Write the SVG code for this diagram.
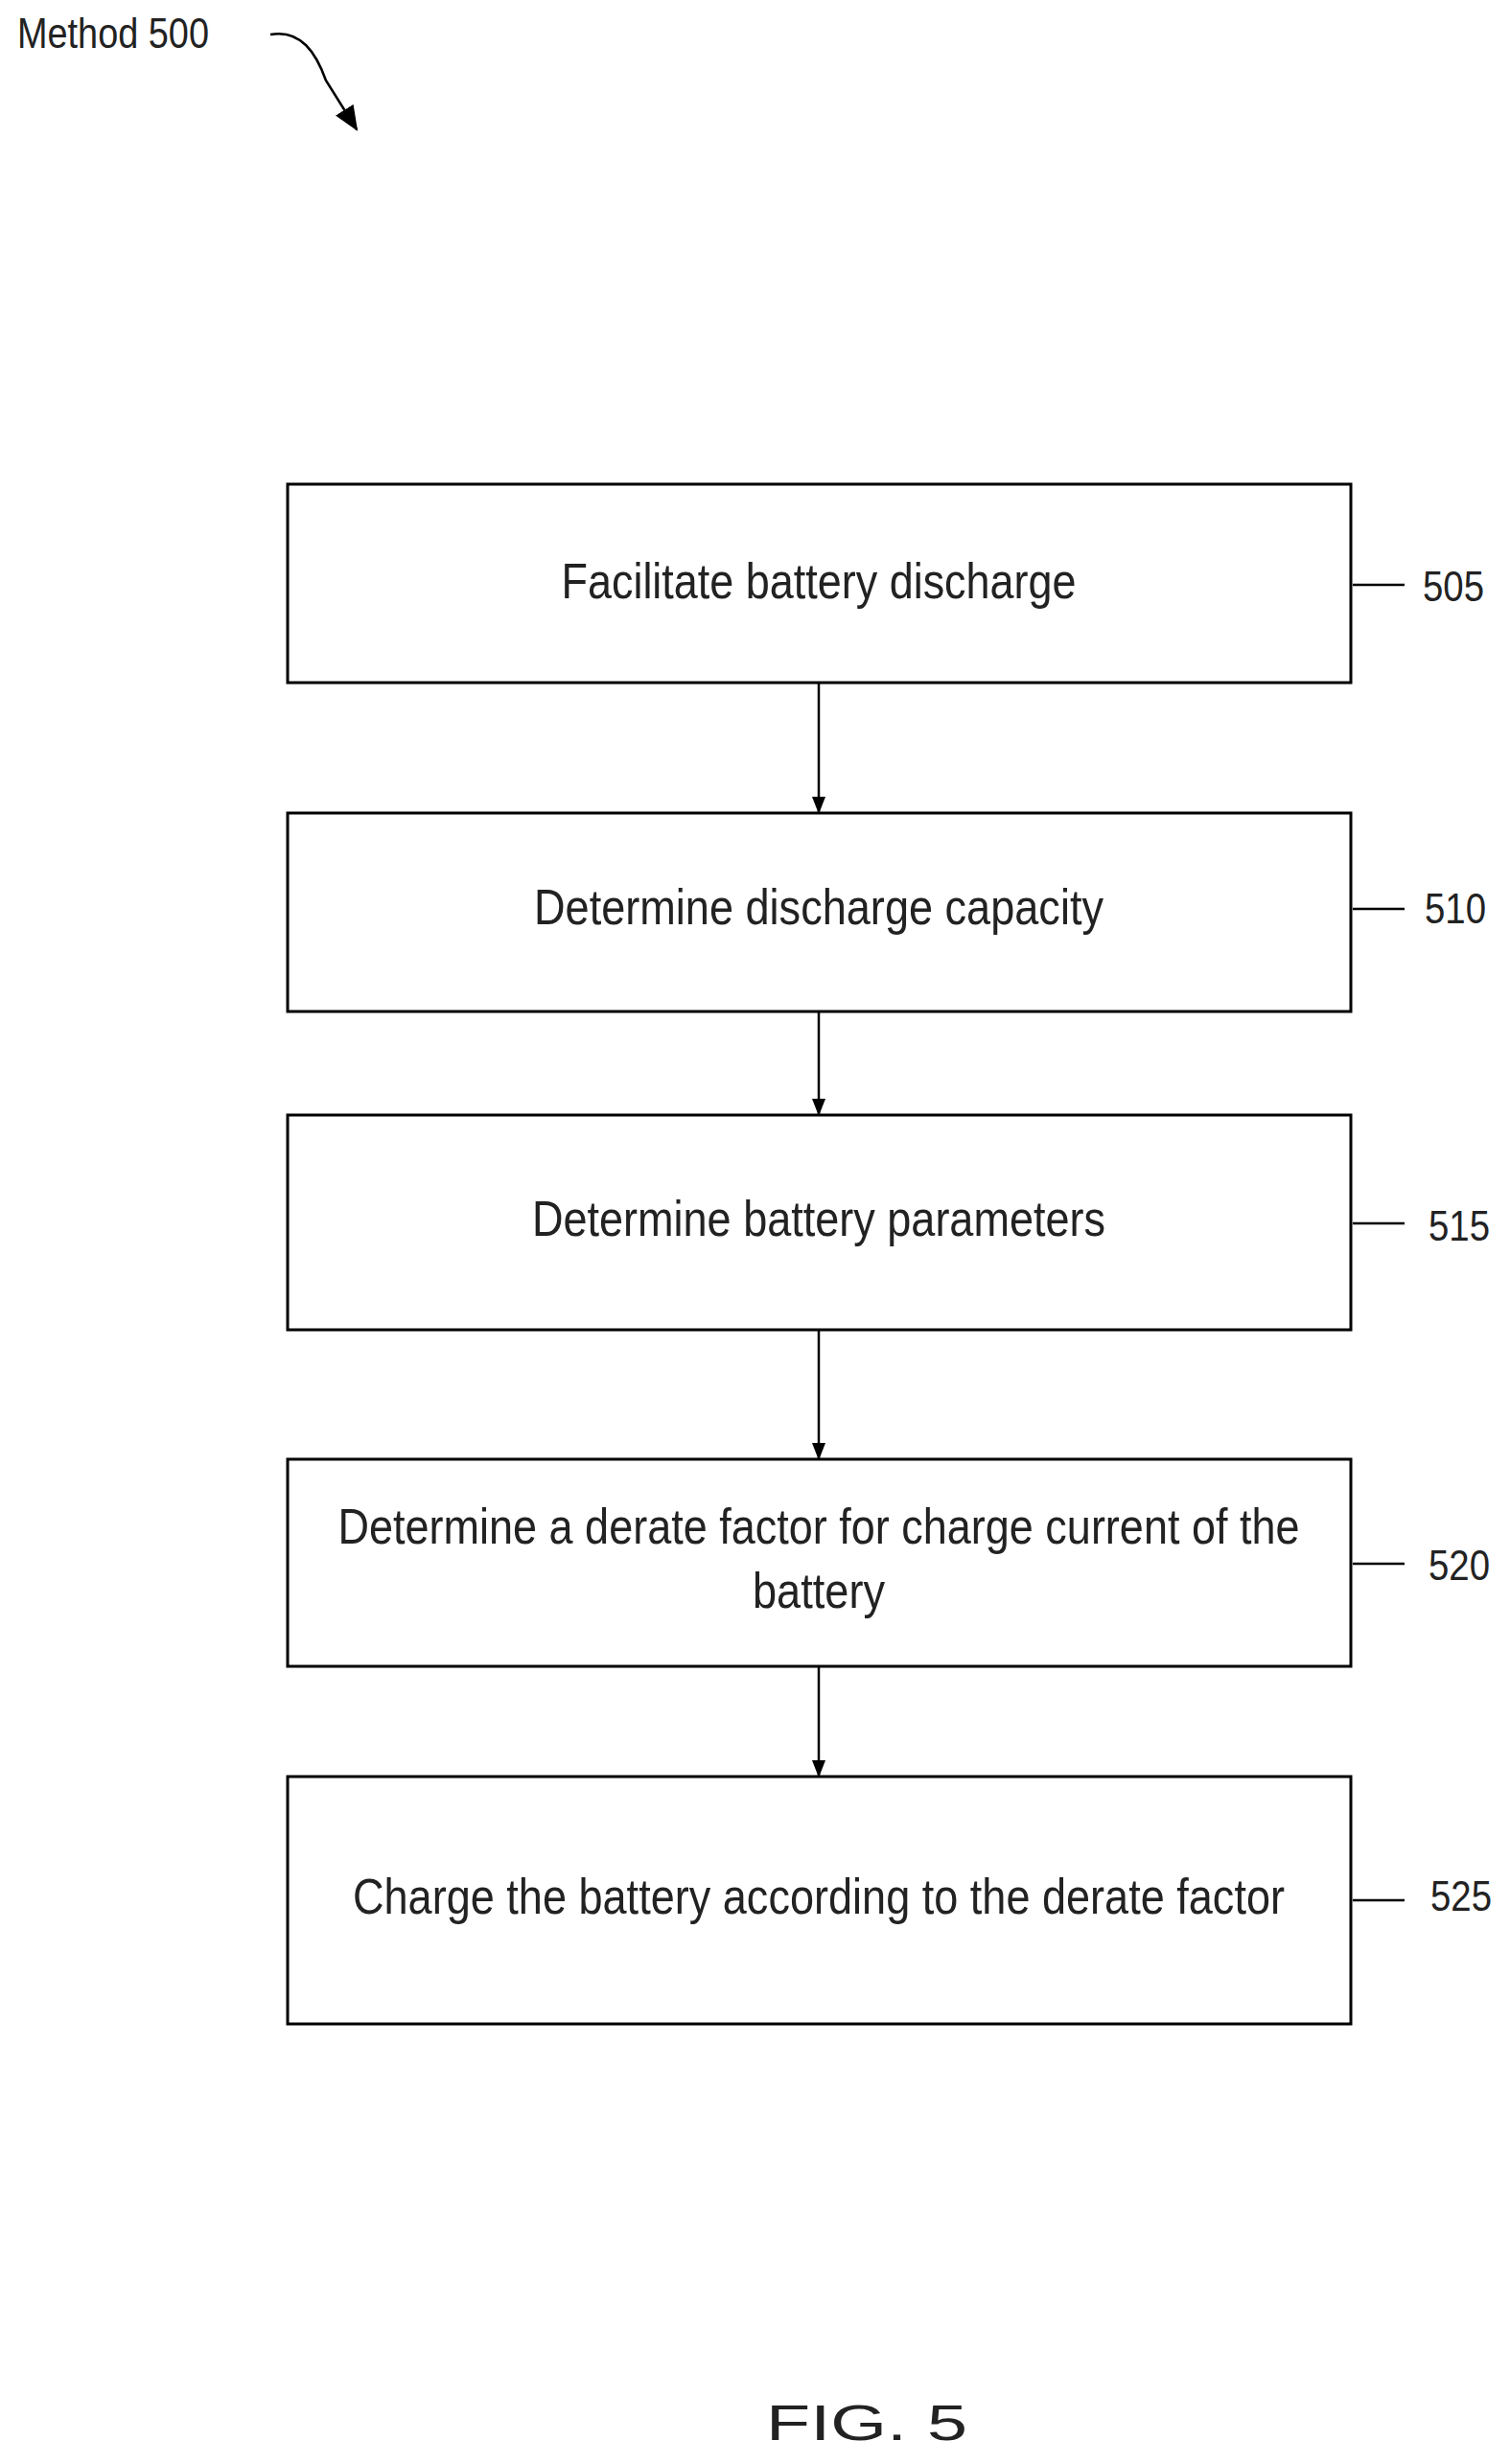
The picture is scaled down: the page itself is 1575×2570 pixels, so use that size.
<svg xmlns="http://www.w3.org/2000/svg" width="1575" height="2570" viewBox="0 0 1575 2570">
<style>
.box{fill:#fff;stroke:#000;stroke-width:3}
.t{font-family:"Liberation Sans",Arial,sans-serif;font-size:52px;text-anchor:middle;fill:#222}
.n{font-family:"Liberation Sans",Arial,sans-serif;font-size:44px;fill:#222}
.c{stroke:#000;stroke-width:2.5;fill:none}
</style>
<defs>
<marker id="b" markerWidth="26" markerHeight="22" refX="24" refY="11" orient="auto" markerUnits="userSpaceOnUse" viewBox="0 0 26 22"><path d="M0,0 L26,11 L0,22 z" fill="#000"/></marker>
<marker id="s" markerWidth="18" markerHeight="18" refX="17" refY="9" orient="auto" markerUnits="userSpaceOnUse" viewBox="0 0 18 18"><path d="M0,2 L18,9 L0,16 z" fill="#000"/></marker></defs>
<text class="n" x="18" y="50" textLength="200" font-size="40" lengthAdjust="spacingAndGlyphs">Method 500</text>
<path class="c" d="M282,36 C314,30 330,56 340,84 L372,135" marker-end="url(#b)"/>
<g id="n505"><rect class="box" x="300" y="505" width="1109" height="207"/><text class="t" x="854" y="624" textLength="537" lengthAdjust="spacingAndGlyphs">Facilitate battery discharge</text><line class="c" x1="1411" y1="610" x2="1465" y2="610"/><text class="n" x="1484" y="627" textLength="64" lengthAdjust="spacingAndGlyphs">505</text></g>
<g id="n510"><rect class="box" x="300" y="848" width="1109" height="207"/><text class="t" x="854" y="964" textLength="594" lengthAdjust="spacingAndGlyphs">Determine discharge capacity</text><line class="c" x1="1411" y1="948" x2="1465" y2="948"/><text class="n" x="1486" y="963" textLength="64" lengthAdjust="spacingAndGlyphs">510</text></g>
<g id="n515"><rect class="box" x="300" y="1163" width="1109" height="224"/><text class="t" x="854" y="1289" textLength="598" lengthAdjust="spacingAndGlyphs">Determine battery parameters</text><line class="c" x1="1411" y1="1276" x2="1465" y2="1276"/><text class="n" x="1490" y="1294" textLength="64" lengthAdjust="spacingAndGlyphs">515</text></g>
<g id="n520"><rect class="box" x="300" y="1522" width="1109" height="216"/><text class="t" x="854" y="1610" textLength="1003" lengthAdjust="spacingAndGlyphs">Determine a derate factor for charge current of the</text><text class="t" x="854" y="1677" textLength="138" lengthAdjust="spacingAndGlyphs">battery</text><line class="c" x1="1411" y1="1631" x2="1465" y2="1631"/><text class="n" x="1490" y="1648" textLength="64" lengthAdjust="spacingAndGlyphs">520</text></g>
<g id="n525"><rect class="box" x="300" y="1853" width="1109" height="258"/><text class="t" x="854" y="1996" textLength="972" lengthAdjust="spacingAndGlyphs">Charge the battery according to the derate factor</text><line class="c" x1="1411" y1="1982" x2="1465" y2="1982"/><text class="n" x="1492" y="1993" textLength="64" lengthAdjust="spacingAndGlyphs">525</text></g>
<g id="connectors">
<line class="c" x1="854" y1="712" x2="854" y2="848" marker-end="url(#s)"/>
<line class="c" x1="854" y1="1055" x2="854" y2="1163" marker-end="url(#s)"/>
<line class="c" x1="854" y1="1387" x2="854" y2="1522" marker-end="url(#s)"/>
<line class="c" x1="854" y1="1738" x2="854" y2="1853" marker-end="url(#s)"/>
</g>
<text class="t" x="904" y="2545" font-size="125" textLength="210" lengthAdjust="spacingAndGlyphs">FIG. 5</text>
</svg>
